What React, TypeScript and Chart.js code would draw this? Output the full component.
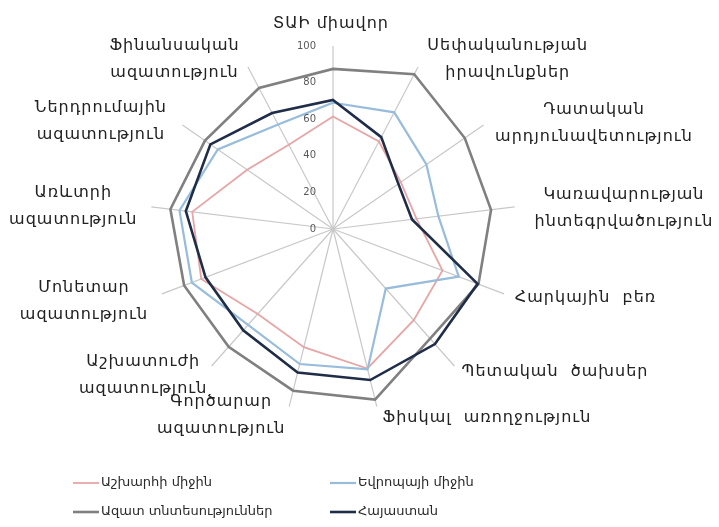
import React, { useEffect, useRef } from 'react';
import { Chart, registerables } from 'chart.js';

Chart.register(...registerables);

// ---- data ----
const categories: string[][] = [
  ['ՏԱԻ միավոր'],
  ['Սեփականության', 'իրավունքներ'],
  ['Դատական', 'արդյունավետություն'],
  ['Կառավարության', 'ինտեգրվածություն'],
  ['Հարկային  բեռ'],
  ['Պետական  ծախսեր'],
  ['Ֆիսկալ  առողջություն'],
  ['Գործարար', 'ազատություն'],
  ['Աշխատուժի', 'ազատություն'],
  ['Մոնետար', 'ազատություն'],
  ['Առևտրի', 'ազատություն'],
  ['Ներդրումային', 'ազատություն'],
  ['Ֆինանսական', 'ազատություն'],
];

const seriesNames = ['Աշխարհի միջին', 'Եվրոպայի միջին', 'Ազատ տնտեսություններ', 'Հայաստան'];

const worldAvg = [61.5, 54, 45, 46, 64, 66.5, 78.5, 66.5, 62, 77, 77.5, 57, 52];
const europeAvg = [69, 72, 62, 58, 73.5, 43.5, 79, 76, 70, 82.5, 84.5, 76.5, 64.5];
const freeEconomies = [87.5, 95.5, 87.5, 87, 85, 80, 96, 91, 86, 87, 89.5, 85, 87];
const armenia = [70.5, 56.7, 43.4, 43.5, 84.5, 84, 85, 80.8, 74, 74.5, 81, 81.4, 71.6];

const tickValues = [0, 20, 40, 60, 80, 100];

// ---- layout / style ----
const COLORS = ['rgba(230,160,160,0.95)', 'rgba(152,188,220,1)', 'rgb(128,128,128)', 'rgb(31,45,72)'];
const WIDTHS = [1.8, 2.2, 2.6, 2.6];
const LABEL_FONT = '16px "DejaVu Sans"';
const LEGEND_FONT = '13px "DejaVu Sans"';
const LABEL_LINE = 27;
const LABEL_GAP = 20;
// small per-label placement nudges [dx, dy] relative to the axis anchor
const labelNudge: number[][] = [
  [-2, -2], [0, 10], [-5, 10], [0, 4], [-8, -3], [-6, -9], [1, -8],
  [1, -11], [9, -6], [5, 0], [6, 2], [1, 8], [1, 10],
];

const textPlugin = {
  id: 'radarText',
  afterDraw(chart: any) {
    const s = chart.scales.r;
    const ctx: any = chart.ctx;
    ctx.save();
    // tick labels
    ctx.font = '10px "DejaVu Sans"';
    ctx.fillStyle = '#595959';
    ctx.textAlign = 'right';
    ctx.textBaseline = 'middle';
    tickValues.forEach((v) => {
      const d = s.getDistanceFromCenterForValue(v);
      ctx.fillText(String(v), s.xCenter - 17, s.yCenter - d);
    });
    // point labels
    ctx.font = LABEL_FONT;
    ctx.letterSpacing = '1px';
    ctx.fillStyle = '#222222';
    ctx.textAlign = 'center';
    const n = categories.length;
    categories.forEach((lines, i) => {
      const p = s.getPointPosition(i, s.drawingArea + LABEL_GAP);
      const ang = (i * 360) / n;
      const w = Math.max(...lines.map((l) => ctx.measureText(l).width));
      let cx = p.x;
      if (ang > 0.5 && ang < 179.5) cx = p.x + w / 2;
      else if (ang > 180.5) cx = p.x - w / 2;
      cx += labelNudge[i][0];
      const h = lines.length * LABEL_LINE;
      const y0 = p.y - h / 2 + LABEL_LINE / 2 + labelNudge[i][1];
      lines.forEach((l, k) => ctx.fillText(l, cx, y0 + k * LABEL_LINE));
    });
    ctx.letterSpacing = '0px';
    // legend
    ctx.font = LEGEND_FONT;
    ctx.textAlign = 'left';
    const cols = [65, 322];
    const rows = [475, 504];
    chart.data.datasets.forEach((ds: any, i: number) => {
      const x = cols[i % 2];
      const y = rows[Math.floor(i / 2)];
      ctx.strokeStyle = ds.borderColor;
      ctx.lineWidth = ds.borderWidth;
      ctx.beginPath();
      ctx.moveTo(x, y);
      ctx.lineTo(x + 26, y);
      ctx.stroke();
      ctx.fillStyle = '#2a2a2a';
      ctx.fillText(ds.label, x + 28, y);
    });
    ctx.restore();
  },
};

export default function App() {
  const ref = useRef<HTMLCanvasElement>(null);
  useEffect(() => {
    if (!ref.current) return;
    const series = [worldAvg, europeAvg, freeEconomies, armenia];
    const chart = new Chart(ref.current, {
      type: 'radar',
      data: {
        labels: categories.map((c) => c.join(' ')),
        datasets: series.map((data, i) => ({
          label: seriesNames[i],
          data,
          borderColor: COLORS[i],
          backgroundColor: 'transparent',
          borderWidth: WIDTHS[i],
          fill: false,
          pointRadius: 0,
          pointHoverRadius: 0,
          tension: 0,
          order: 3 - i,
        })),
      },
      options: {
        animation: false,
        responsive: false,
        maintainAspectRatio: false,
        layout: { padding: { left: 142, top: 38, right: 195, bottom: 107 } },
        plugins: { legend: { display: false }, tooltip: { enabled: false } },
        scales: {
          r: {
            min: 0,
            max: 100,
            ticks: { display: false, stepSize: 20 },
            grid: { display: false },
            angleLines: { display: true, color: 'rgb(200,200,200)', lineWidth: 1.2 },
            pointLabels: { display: false },
          },
        },
      },
      plugins: [textPlugin],
    });
    return () => chart.destroy();
  }, []);
  return (
    <div style={{ width: 703, height: 511 }}>
      <canvas ref={ref} width={703} height={511} style={{ display: 'block' }} />
    </div>
  );
}
